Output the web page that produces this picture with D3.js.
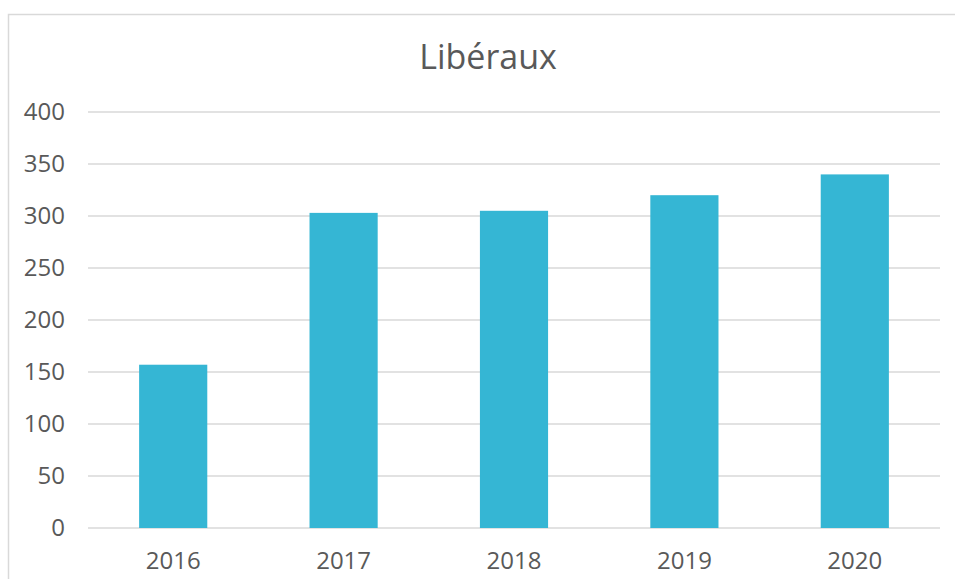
<!DOCTYPE html>
<html>
<head>
<meta charset="utf-8">
<script src="https://cdn.jsdelivr.net/npm/d3@7"></script>
<style>
  body { margin: 0; background: #fff; }
  text { font-family: "Open Sans", "Noto Sans", sans-serif; fill: #595959; }
</style>
</head>
<body>
<script>
var years = ["2016", "2017", "2018", "2019", "2020"];
var values = [157, 303, 305, 320, 340];
var yTicks = [0, 50, 100, 150, 200, 250, 300, 350, 400];
var title = "Libéraux";

var w = 955, h = 579;
var margin = { top: 112, right: 15, bottom: 51, left: 88 },
  width = w - margin.left - margin.right,
  height = h - margin.top - margin.bottom;

var svg = d3.select("body").append("svg")
  .attr("width", w)
  .attr("height", h);

// chart frame, cut off at right and bottom
svg.append("rect")
  .attr("x", 8.5)
  .attr("y", 14.5)
  .attr("width", 1000)
  .attr("height", 700)
  .attr("fill", "none")
  .attr("stroke", "#d9d9d9")
  .attr("stroke-width", 1.5);

svg.append("text")
  .attr("x", 488)
  .attr("y", 69)
  .attr("text-anchor", "middle")
  .style("font-size", "34px")
  .text(title);

var g = svg.append("g")
  .attr("transform", "translate(" + margin.left + "," + margin.top + ")");

var x = d3.scaleBand()
  .domain(years)
  .range([0, width])
  .paddingInner(0.6)
  .paddingOuter(0.3);

var y = d3.scaleLinear()
  .domain([0, 400])
  .range([height, 0]);

// gridlines
g.append("g")
  .attr("class", "grid")
  .selectAll("line")
  .data(yTicks)
  .enter().append("line")
  .attr("x1", 0)
  .attr("x2", width)
  .attr("y1", function (d) { return y(d); })
  .attr("y2", function (d) { return y(d); })
  .attr("stroke", "#d9d9d9")
  .attr("stroke-width", 1.5);

var yAxis = d3.axisLeft(y)
  .tickValues(yTicks)
  .tickSize(0)
  .tickPadding(23);

g.append("g")
  .attr("class", "y axis")
  .call(yAxis)
  .call(function (s) { s.select(".domain").remove(); })
  .selectAll("text")
  .style("font-size", "24px")
  .attr("fill", "#595959");

g.selectAll("rect.bar")
  .data(values)
  .enter().append("rect")
  .attr("class", "bar")
  .attr("x", function (d, i) { return x(years[i]); })
  .attr("width", x.bandwidth())
  .attr("y", function (d) { return y(d); })
  .attr("height", function (d) { return height - y(d); })
  .attr("fill", "#35b6d4");

var xAxis = d3.axisBottom(x)
  .tickSize(0)
  .tickPadding(24);

g.append("g")
  .attr("class", "x axis")
  .attr("transform", "translate(0," + height + ")")
  .call(xAxis)
  .call(function (s) { s.select(".domain").remove(); })
  .selectAll("text")
  .style("font-size", "24px")
  .attr("fill", "#595959");
</script>
</body>
</html>
